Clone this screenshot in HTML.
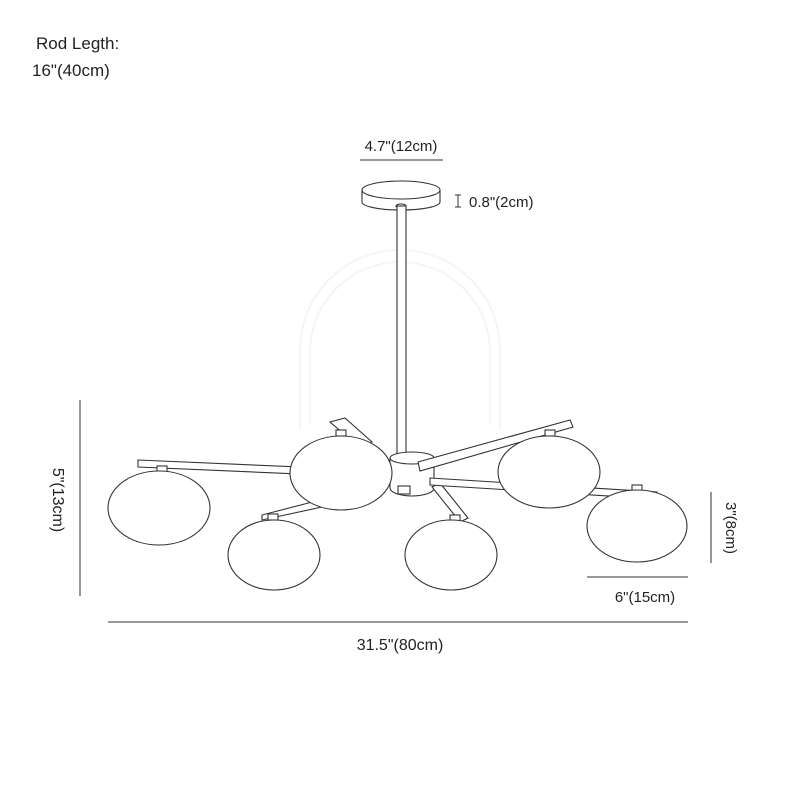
<!DOCTYPE html>
<html><head><style>
body{margin:0;background:#fff}
svg{display:block}
text{font-family:"Liberation Sans",sans-serif;fill:#222}
</style></head><body>
<svg width="800" height="800" viewBox="0 0 800 800" xmlns="http://www.w3.org/2000/svg">
<rect width="800" height="800" fill="#fff"/>
<!-- watermark -->
<path d="M300 430 V350 A100 100 0 0 1 500 350 V430" fill="none" stroke="#f5f5f5" stroke-width="2"/>
<path d="M310 425 V352 A90 90 0 0 1 490 352 V425" fill="none" stroke="#f5f5f5" stroke-width="2"/>
<g stroke="#333" stroke-width="1.1" fill="#fff">
<!-- canopy -->
<path d="M362 190 V202 A39 8 0 0 0 440 202 V190" />
<ellipse cx="401" cy="190" rx="39" ry="9"/>
<ellipse cx="401" cy="206" rx="5" ry="2"/>
<!-- rod -->
<rect x="397" y="206" width="9" height="250"/>
<!-- hub -->
<path d="M390 458 V488 A22 8 0 0 0 434 488 V458"/>
<ellipse cx="412" cy="458" rx="22" ry="6"/>
<rect x="398" y="486" width="12" height="8"/>
<!-- arms -->
<polygon points="138,460 300,467 300,474 138,467"/>
<polygon points="330,422 345,418 372,442 358,446"/>
<polygon points="262,520 262,515 320,500 322,507"/>
<polygon points="432,487 440,483 468,518 460,522"/>
<polygon points="430,478 657,492 657,499 430,485"/>
<polygon points="418,462 570,420 573,427 420,471"/>
<!-- small sockets -->
<rect x="157" y="466" width="10" height="6"/>
<rect x="336" y="430" width="10" height="6"/>
<rect x="268" y="514" width="10" height="6"/>
<rect x="450" y="515" width="10" height="6"/>
<rect x="545" y="430" width="10" height="6"/>
<rect x="632" y="485" width="10" height="6"/>
<!-- globes -->
<ellipse cx="159" cy="508" rx="51" ry="37"/>
<ellipse cx="274" cy="555" rx="46" ry="35"/>
<ellipse cx="451" cy="555" rx="46" ry="35"/>
<ellipse cx="637" cy="526" rx="50" ry="36"/>
<ellipse cx="341" cy="473" rx="51" ry="37"/>
<ellipse cx="549" cy="472" rx="51" ry="36"/>
</g>
<!-- dimensions -->
<g stroke="#333" stroke-width="1" fill="none">
<line x1="360" y1="160" x2="443" y2="160"/>
<line x1="458" y1="195" x2="458" y2="207"/><line x1="455" y1="195" x2="461" y2="195"/><line x1="455" y1="207" x2="461" y2="207"/>
<line x1="80" y1="400" x2="80" y2="596"/>
<line x1="711" y1="492" x2="711" y2="563"/>
<line x1="587" y1="577" x2="688" y2="577"/>
<line x1="108" y1="622" x2="688" y2="622"/>
</g>
<text x="36" y="49" font-size="17">Rod Legth:</text>
<text x="32" y="76" font-size="17">16"(40cm)</text>
<text x="401" y="151" font-size="15" text-anchor="middle">4.7"(12cm)</text>
<text x="469" y="207" font-size="15">0.8"(2cm)</text>
<text x="645" y="602" font-size="15" text-anchor="middle">6"(15cm)</text>
<text x="400" y="650" font-size="16" text-anchor="middle">31.5"(80cm)</text>
<text transform="translate(53,500) rotate(90)" font-size="16" text-anchor="middle">5"(13cm)</text>
<text transform="translate(726,528) rotate(90)" font-size="15" text-anchor="middle">3"(8cm)</text>
</svg>
</body></html>
